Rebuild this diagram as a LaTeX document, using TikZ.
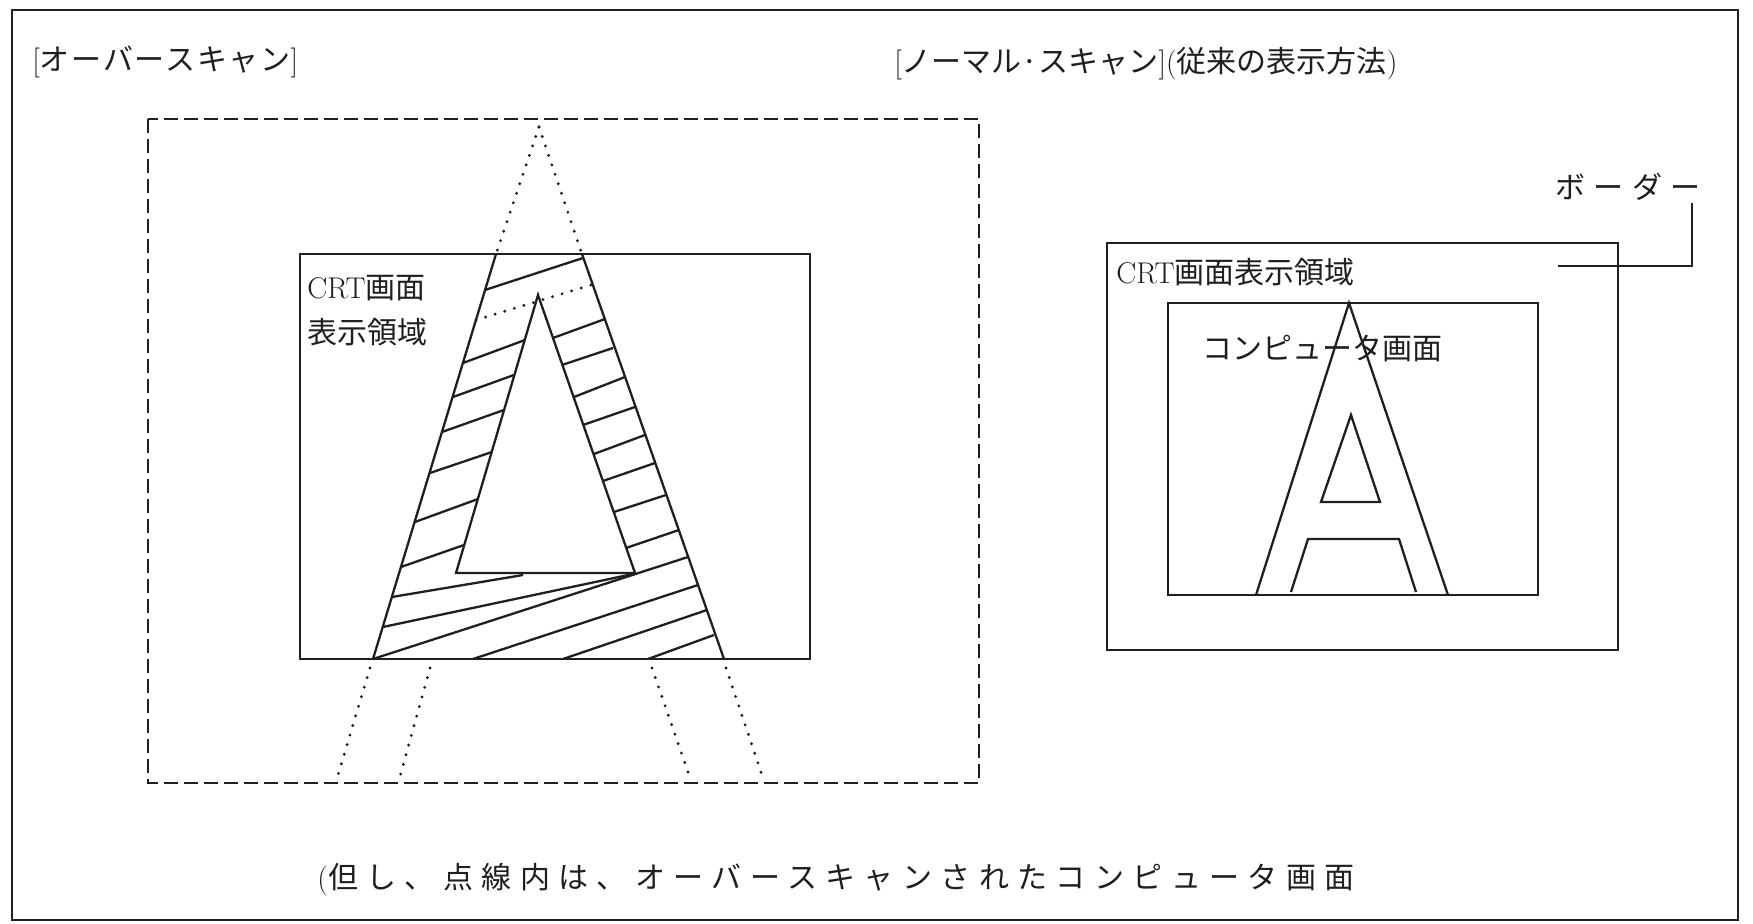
\documentclass[tikz,border=0pt]{standalone}
\usepackage{fontspec}
\newfontfamily\cjk{Noto Sans CJK JP}
\newfontfamily\cjkwide[LetterSpace=28]{Noto Sans CJK JP}
\newfontfamily\cjkmid[LetterSpace=6]{Noto Sans CJK JP}
\begin{document}
\begin{tikzpicture}[x=0.5pt,y=-0.5pt,
  ink/.style={draw=black!88, line width=1.15pt},
  dashbox/.style={draw=black!88, line width=1.4pt, dash pattern=on 7pt off 3pt},
  dotline/.style={draw=black!88, line width=1.6pt, line cap=round, dash pattern=on 0pt off 5pt},
  lbl/.style={anchor=west, inner sep=0pt, text=black!88, font=\fontsize{15pt}{18pt}\selectfont}]
\useasboundingbox (0,0) rectangle (1753,924);
\fill[white] (0,0) rectangle (1753,924);
% page frame
\draw[ink, line width=1.3pt] (12,10) rectangle (1738,920);

% titles
\node[lbl] (t1) at (32,62) {[{\cjkmid オーバースキャン}]};
\node[lbl] (t2) at (894,64) {[{\cjk ノーマル·スキャン}]({\cjk 従来の表示方法})};

% ---------- overscan ----------
\draw[dashbox] (148,119) rectangle (979,783);
\draw[ink] (300,254) rectangle (810,659);

\coordinate (P0) at (539,127);
\coordinate (L1) at (496,254);
\coordinate (R1) at (582,254);
\coordinate (L2) at (373,659);
\coordinate (R2) at (724,659);
\coordinate (I0) at (538,295);
\coordinate (IL) at (456,573);
\coordinate (IR) at (635,573);

\draw[ink] (L1) -- (L2);
\draw[ink] (R1) -- (R2);
\draw[ink] (I0) -- (IL) -- (IR) -- cycle;

% dotted continuations
\draw[dotline] (P0) -- (L1);
\draw[dotline] (P0) -- (R1);
\draw[dotline] (476,320) -- (591,285);
\draw[dotline] (370,668) -- (338,775);
\draw[dotline] (430,668) -- (399,780);
\draw[dotline] (652,668) -- (689,775);
\draw[dotline] (726,668) -- (762,775);

% hatching
\foreach \xa/\ya/\xb/\yb in {
  485/290/583/258,
  463/363/525/340, 453/397/514/375, 442/432/504/410, 430/473/492/452,
  415/522/478/499, 401/567/464/545,
  392/597/523/575, 383/627/633/574, 373/659/688/557,
  473/659/698/585, 563/659/707/610, 648/659/714/635,
  553/338/605/319, 562/365/613/348, 574/397/625/377, 583/425/635/407,
  594/454/645/435, 603/481/655/463, 614/512/666/495, 626/548/679/530}
  \draw[ink] (\xa,\ya) -- (\xb,\yb);

\node[lbl] (crt1) at (307,288) {CRT{\cjk 画面}};
\node[lbl] (crt2) at (307,332) {\cjk 表示領域};

% ---------- normal scan ----------
\draw[ink] (1107,243) rectangle (1618,650);
\draw[ink] (1168,303) rectangle (1538,595);
\draw[ink] (1256,595) -- (1349,303) -- (1448,595);
\draw[ink] (1351,415) -- (1321,502) -- (1380,502) -- cycle;
\draw[ink] (1291,592) -- (1308,539) -- (1399,539) -- (1416,592);

\node[lbl] (crt3) at (1116,272) {CRT{\cjk 画面表示領域}};
\node[lbl] (comp) at (1202,348) {\cjk コンピュータ画面};
\node[lbl] (bd) at (1555,187) {\cjkwide ボーダー};
\coordinate (bdtop) at (1692,203);
\coordinate (bdend) at (1558,266);
\draw[ink] (bdtop) |- (bdend);

% note
\node[lbl] (note) at (317,880) {({\cjkwide 但し、点線内は、オーバースキャンされたコンピュータ画面}};
\end{tikzpicture}
\end{document}
